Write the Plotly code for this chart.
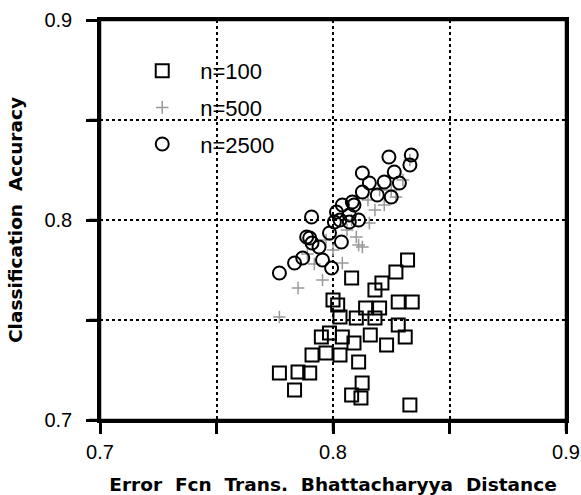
import plotly.graph_objects as go

# n=100 (squares)
x100 = [0.832, 0.827, 0.821, 0.818, 0.808, 0.828, 0.834, 0.820, 0.814, 0.802, 0.803, 0.810,
        0.828, 0.818, 0.831, 0.823, 0.816, 0.809, 0.804, 0.7985, 0.795, 0.803, 0.797, 0.791,
        0.811, 0.790, 0.785, 0.777, 0.8125, 0.7835, 0.808, 0.812, 0.833, 0.800]
y100 = [0.780, 0.774, 0.7685, 0.765, 0.771, 0.759, 0.759, 0.756, 0.756, 0.7575, 0.7515, 0.751,
        0.7475, 0.751, 0.7415, 0.7375, 0.7425, 0.7385, 0.7415, 0.7435, 0.7415, 0.7325, 0.7335, 0.7325,
        0.729, 0.7235, 0.724, 0.7235, 0.7185, 0.715, 0.7125, 0.711, 0.7075, 0.760]

# n=500 (dotted crosses)
x500 = [0.833, 0.830, 0.827, 0.8156, 0.8126, 0.810, 0.804, 0.7955, 0.785, 0.777, 0.811,
        0.822, 0.818, 0.806, 0.800, 0.792, 0.825, 0.815, 0.808, 0.820, 0.797, 0.789]
y500 = [0.830, 0.820, 0.8115, 0.7985, 0.7865, 0.7915, 0.7785, 0.770, 0.766, 0.7515, 0.7875,
        0.8075, 0.805, 0.795, 0.785, 0.778, 0.815, 0.810, 0.800, 0.815, 0.790, 0.783]

# n=2500 (circles)
x2500 = [0.8336, 0.824, 0.833, 0.8126, 0.8263, 0.8156, 0.822, 0.8285, 0.8126, 0.819, 0.825,
         0.8083, 0.804, 0.8015, 0.807, 0.811, 0.803, 0.809, 0.7908, 0.8006, 0.807, 0.790,
         0.7985, 0.8036, 0.794, 0.787, 0.7835, 0.7955, 0.7994, 0.777, 0.7887, 0.791]
y2500 = [0.8325, 0.8315, 0.8275, 0.8235, 0.824, 0.8185, 0.819, 0.8185, 0.814, 0.8125, 0.8115,
         0.809, 0.8075, 0.804, 0.8025, 0.800, 0.800, 0.8075, 0.8015, 0.799, 0.799, 0.791,
         0.7935, 0.789, 0.7865, 0.781, 0.7785, 0.780, 0.776, 0.7735, 0.7915, 0.7885]

tick_vals = [0.7, 0.75, 0.8, 0.85, 0.9]
tick_text = ["0.7", "", "0.8", "", "0.9"]

fig = go.Figure()
fig.add_trace(go.Scatter(
    x=x100, y=y100, mode="markers", name="n=100", legendgroup="a",
    marker=dict(symbol="square-open", size=13, color="black", line=dict(width=2, color="black")),
))
fig.add_trace(go.Scatter(
    x=x500, y=y500, mode="markers", name="n=500", legendgroup="b",
    marker=dict(symbol="cross-thin-open", size=9, color="#999999", line=dict(width=1.5, color="#999999")),
))
fig.add_trace(go.Scatter(
    x=x2500, y=y2500, mode="markers", name="n=2500", legendgroup="c",
    marker=dict(symbol="circle-open", size=13, color="black", line=dict(width=2, color="black")),
))

sp = "\u00a0\u00a0"
tickfont = dict(family="Liberation Sans", size=20, color="black")
titlefont = dict(family="DejaVu Sans", size=18.5, color="black", weight="bold")


def axis(title_text, standoff, label_standoff):
    return dict(
        range=[0.7, 0.9],
        tickmode="array", tickvals=tick_vals, ticktext=tick_text,
        showline=True, linecolor="black", linewidth=2.5, mirror=True,
        ticks="outside", ticklen=11, tickwidth=2.5, tickcolor="black",
        ticklabelstandoff=label_standoff,
        showgrid=True, gridcolor="black", gridwidth=1.5, griddash="dot",
        zeroline=False, layer="above traces",
        tickfont=tickfont,
        title=dict(text=title_text, font=titlefont, standoff=standoff),
    )


# tick marks (drawn as axis decorations at the tick values)
tick_shapes = []
for v in tick_vals:
    tick_shapes.append(dict(type="line", xref="x", x0=v, x1=v,
                            yref="paper", ysizemode="pixel", yanchor=0, y0=-11, y1=0,
                            line=dict(color="black", width=2.5), layer="above"))
    tick_shapes.append(dict(type="line", yref="y", y0=v, y1=v,
                            xref="paper", xsizemode="pixel", xanchor=0, x0=-11, x1=0,
                            line=dict(color="black", width=2.5), layer="above"))

fig.update_layout(
    template="none",
    width=581, height=495,
    margin=dict(l=100, r=15, t=20, b=75),
    paper_bgcolor="white", plot_bgcolor="white",
    xaxis=axis(sp.join(["Error", "Fcn", "Trans.", "Bhattacharyya", "Distance"]) + sp, 17, 1),
    yaxis=axis(sp.join(["Classification", "Accuracy"]), 17, 10),
    showlegend=True,
    legend=dict(
        x=0.052, y=0.925, xanchor="left", yanchor="top",
        bgcolor="rgba(0,0,0,0)", borderwidth=0,
        font=dict(family="Liberation Sans", size=22, color="black"),
        tracegroupgap=5, itemwidth=66,
    ),
    shapes=[dict(type="rect", xref="paper", yref="paper", x0=0, y0=0, x1=1, y1=1,
                 line=dict(color="black", width=2.5), layer="above")] + tick_shapes,
)

fig.write_html("out.html", config={"displayModeBar": False},
               post_script="document.body.style.margin='0';")
